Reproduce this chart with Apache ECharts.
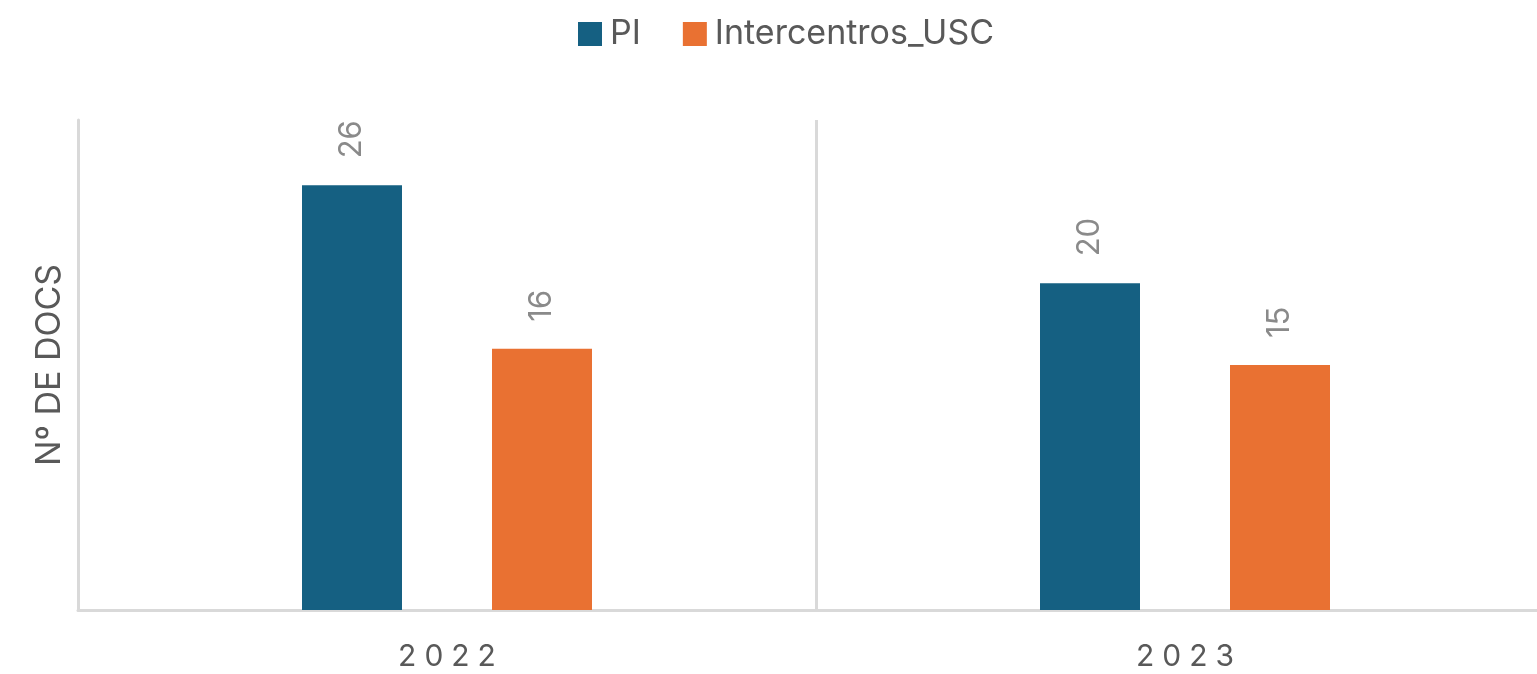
<!DOCTYPE html>
<html>
<head>
    <meta charset="utf-8">
    <title>ECharts</title>
    <script src="https://cdn.jsdelivr.net/npm/echarts@6/dist/echarts.min.js"></script>
    <style>
        html, body { margin: 0; padding: 0; background: #fff; overflow: hidden; }
        #main { width: 1537px; height: 674px; }
    </style>
</head>
<body>
<div id="main"></div>
<script type="text/javascript">
    // 数据
    var years = ['2022', '2023'];
    var seriesNames = ['PI', 'Intercentros_USC'];
    var piData = [26, 20];
    var interData = [16, 15];

    var myChart = echarts.init(document.getElementById('main'));

    var labelStyle = {
        show: true,
        position: 'top',
        rotate: 90,
        align: 'left',
        verticalAlign: 'middle',
        distance: 27,
        color: '#8a8a8a',
        fontSize: 31,
        fontFamily: 'Inter'
    };

    var option = {
        backgroundColor: '#FFFFFF',
        textStyle: { fontFamily: 'Inter' },
        legend: {
            data: seriesNames,
            top: 17,
            left: 578,
            padding: 0,
            icon: 'rect',
            itemWidth: 24,
            itemHeight: 24,
            itemGap: 42,
            formatter: function (name) { return '{t|' + name + '}'; },
            textStyle: {
                rich: {
                    t: { fontSize: 34, color: '#595959', fontFamily: 'Inter', padding: [0, 0, 0, 3] }
                }
            }
        },
        // 右侧超出画面
        grid: { left: 78, width: 1476, top: 120, bottom: 64, outerBoundsMode: 'none' },
        xAxis: {
            type: 'category',
            data: years,
            axisLine: { lineStyle: { color: '#d9d9d9', width: 3 } },
            axisTick: { show: false },
            splitLine: { show: true, lineStyle: { color: '#d9d9d9', width: 3 } },
            axisLabel: {
                margin: 32,
                formatter: function (v) {
                    return v.split('').map(function (c) { return '{d|' + c + '}'; }).join('');
                },
                rich: {
                    d: { fontSize: 30, color: '#595959', fontFamily: 'Inter', padding: [0, 4, 0, 4] }
                }
            }
        },
        yAxis: {
            type: 'value',
            min: 0,
            max: 30,
            name: 'Nº DE DOCS',
            nameLocation: 'middle',
            nameGap: 11,
            nameTextStyle: { fontSize: 34, color: '#595959', fontFamily: 'Inter' },
            axisLine: { show: true, lineStyle: { color: '#d9d9d9', width: 3 } },
            axisTick: { show: false },
            axisLabel: { show: false },
            splitLine: { show: false }
        },
        series: [{
            name: seriesNames[0],
            type: 'bar',
            data: piData,
            barWidth: 100,
            barGap: '90%',
            itemStyle: { color: '#156082' },
            label: labelStyle
        }, {
            name: seriesNames[1],
            type: 'bar',
            data: interData,
            barWidth: 100,
            barGap: '90%',
            itemStyle: { color: '#E97132' },
            label: labelStyle
        }]
    };

    myChart.setOption(option);
</script>
</body>
</html>
